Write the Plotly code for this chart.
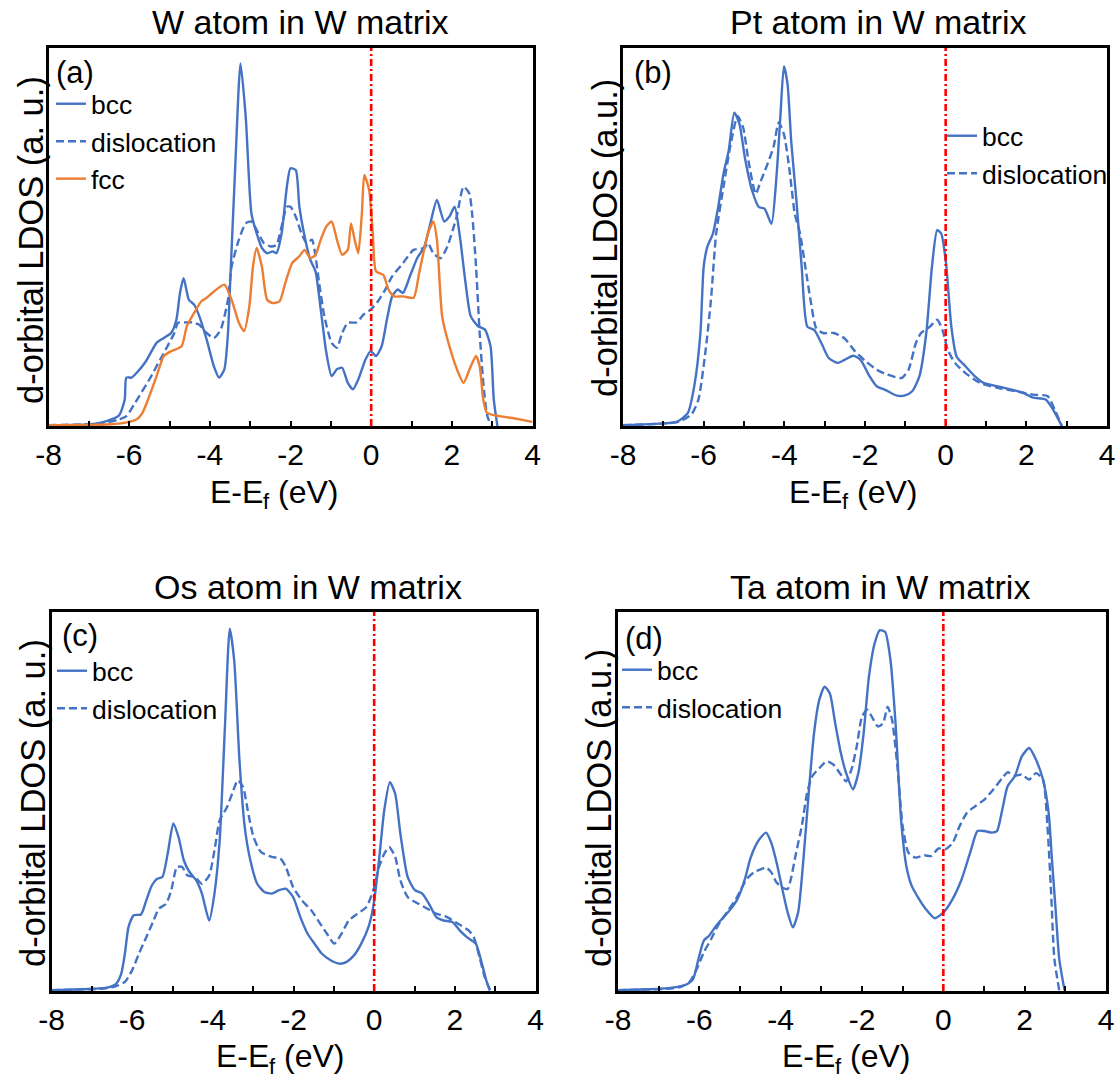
import plotly.graph_objects as go

W, H = 1117, 1081
BLUE = "#4472C4"
ORANGE = "#ED7D31"
RED = "#FF0000"
FONT = "Liberation Sans, Arial, sans-serif"

# ---------------- d-orbital LDOS data (energy in eV relative to E_f, arbitrary units) ----------------
# (a) W atom in W matrix
a_bcc_E = [-8.00, -7.00, -6.56, -6.25, -6.11, -6.07, -5.94, -5.81, -5.58, -5.32, -5.14, -4.96, -4.83, -4.74,
           -4.65, -4.52, -4.39, -4.26, -4.08, -3.90, -3.77, -3.64, -3.55, -3.50, -3.37, -3.24, -3.11, -2.97,
           -2.84, -2.71, -2.58, -2.44, -2.35, -2.22, -2.09, -2.00, -1.87, -1.78, -1.65, -1.51, -1.38, -1.25,
           -1.11, -0.98, -0.85, -0.72, -0.58, -0.45, -0.32, -0.14, -0.01, 0.12, 0.26, 0.39, 0.52, 0.66, 0.79,
           0.96, 1.14, 1.32, 1.45, 1.63, 1.81, 1.94, 2.07, 2.20, 2.34, 2.47, 2.65, 2.82, 2.96, 3.04, 3.13]
a_bcc_D = [0.2, 0.4, 1.3, 2.8, 7.0, 12.8, 12.8, 14.1, 17.2, 22.0, 23.3, 24.6, 28.1, 35.2,
           39.1, 33.4, 32.1, 29.0, 22.9, 15.8, 12.8, 15.0, 24.6, 36.9, 68.6, 95.9, 81.8, 56.3,
           51.0, 47.1, 45.7, 46.2, 45.7, 51.0, 63.3, 68.2, 67.7, 58.0, 50.1, 44.0, 40.9, 30.8,
           19.3, 13.2, 15.0, 15.4, 11.4, 9.7, 12.3, 17.6, 19.8, 18.5, 21.1, 28.1, 34.3, 36.1, 35.2,
           39.6, 44.4, 47.5, 52.8, 59.8, 54.1, 55.4, 58.0, 50.1, 37.8, 29.0, 26.4, 25.5, 21.1, 7.0, 0.0]

a_dis_E = [-8.00, -6.73, -6.29, -6.07, -5.85, -5.50, -5.23, -5.05, -4.88, -4.79, -4.61, -4.43, -4.26, -4.08,
           -3.90, -3.73, -3.55, -3.46, -3.28, -3.11, -2.97, -2.84, -2.66, -2.49, -2.35, -2.22, -2.09, -2.00,
           -1.87, -1.73, -1.60, -1.47, -1.38, -1.29, -1.16, -0.98, -0.85, -0.72, -0.58, -0.36, -0.19, -0.01,
           0.17, 0.35, 0.52, 0.79, 1.05, 1.32, 1.41, 1.54, 1.72, 1.89, 2.12, 2.29, 2.43, 2.51, 2.60, 2.69,
           2.78, 2.87, 2.96]
a_dis_D = [0.2, 0.7, 1.6, 2.6, 6.2, 12.3, 17.6, 21.1, 24.6, 27.3, 27.4, 27.4, 26.8, 24.6,
           23.3, 25.5, 33.4, 42.2, 49.3, 53.6, 54.1, 51.9, 48.4, 47.5, 47.9, 52.8, 58.0, 58.0,
           55.4, 51.0, 48.4, 49.3, 44.9, 37.8, 29.0, 22.0, 20.7, 24.6, 27.3, 27.4, 29.5, 30.8,
           33.0, 36.1, 39.6, 43.1, 46.6, 47.1, 48.4, 45.7, 44.4, 47.5, 55.4, 63.3, 61.6, 55.4, 42.2, 24.6,
           11.4, 3.1, 0.2]

a_fcc_E = [-8.00, -6.56, -6.20, -5.81, -5.67, -5.50, -5.32, -5.14, -4.96, -4.70, -4.57, -4.39, -4.21, -4.08,
           -3.90, -3.64, -3.46, -3.28, -3.15, -3.02, -2.93, -2.84, -2.71, -2.58, -2.44, -2.27, -2.13, -1.96,
           -1.78, -1.65, -1.51, -1.38, -1.25, -1.11, -0.98, -0.85, -0.72, -0.58, -0.50, -0.41, -0.32, -0.23,
           -0.17, -0.05, 0.04, 0.12, 0.30, 0.43, 0.57, 0.79, 1.05, 1.19, 1.41, 1.54, 1.63, 1.76, 1.94,
           2.16, 2.29, 2.47, 2.60, 2.69, 2.78, 2.87, 3.18, 3.62, 4.00]
a_fcc_D = [0.2, 0.4, 0.7, 1.8, 3.5, 7.9, 13.2, 18.5, 19.8, 21.1, 26.4, 29.9, 33.0, 33.9,
           35.6, 37.4, 33.4, 27.3, 25.1, 31.7, 42.2, 47.1, 42.2, 33.4, 32.5, 33.0, 37.8, 43.1,
           44.9, 46.6, 44.4, 45.3, 49.3, 52.8, 54.1, 49.3, 45.3, 46.6, 53.6, 49.3, 45.7, 56.3,
           66.4, 62.4, 51.0, 40.9, 40.0, 36.1, 34.3, 34.3, 33.9, 40.5, 51.0, 54.1, 49.3, 29.0, 21.1,
           14.1, 11.4, 15.8, 18.5, 15.8, 7.0, 3.5, 2.6, 1.9, 1.1]

# (b) Pt atom in W matrix
b_bcc_E = [-8.00, -7.01, -6.66, -6.39, -6.22, -6.08, -6.00, -5.91, -5.77, -5.64, -5.51, -5.38, -5.24, -5.11,
           -4.98, -4.80, -4.63, -4.49, -4.32, -4.19, -4.10, -4.01, -3.92, -3.83, -3.70, -3.57, -3.43, -3.26,
           -3.08, -2.90, -2.68, -2.51, -2.29, -2.11, -1.89, -1.71, -1.49, -1.23, -1.01, -0.83, -0.65, -0.48,
           -0.34, -0.21, -0.11, 0.01, 0.14, 0.27, 0.49, 0.72, 0.94, 1.29, 1.64, 1.91, 2.17, 2.48, 2.66, 2.88]
b_bcc_D = [0.2, 0.7, 1.1, 3.5, 11.4, 24.6, 42.1, 47.4, 50.9, 57.9, 66.7, 72.8, 82.9, 79.8,
           71.1, 62.3, 57.9, 57.5, 53.5, 66.7, 81.6, 95.2, 90.4, 75.4, 59.6, 42.1, 26.3, 25.4,
           21.9, 18.0, 16.7, 17.5, 18.6, 17.5, 13.2, 10.5, 9.5, 8.1, 8.1, 9.2, 13.2, 24.6,
           42.1, 51.8, 50.9, 43.0, 26.3, 18.4, 15.8, 13.2, 11.4, 10.5, 9.6, 8.8, 7.5, 7.0, 4.4, 0.0]

b_dis_E = [-8.00, -6.92, -6.57, -6.30, -6.13, -5.95, -5.82, -5.69, -5.51, -5.33, -5.16, -5.02, -4.89, -4.71,
           -4.58, -4.45, -4.27, -4.14, -4.01, -3.88, -3.74, -3.61, -3.48, -3.35, -3.21, -3.04, -2.77, -2.51,
           -2.24, -1.98, -1.71, -1.45, -1.09, -0.92, -0.74, -0.61, -0.39, -0.21, -0.08, 0.05, 0.23, 0.49,
           0.85, 1.29, 1.73, 2.17, 2.53, 2.70, 2.88]
b_dis_D = [0.2, 0.7, 1.3, 3.1, 7.0, 20.2, 33.3, 50.9, 63.2, 74.6, 82.0, 78.9, 70.2, 61.4,
           64.9, 68.4, 73.7, 80.3, 77.2, 68.4, 56.1, 50.9, 42.1, 33.3, 25.9, 24.6, 24.6, 23.2,
           19.7, 17.1, 14.9, 13.6, 12.7, 14.9, 21.9, 24.6, 26.3, 28.1, 25.4, 20.2, 16.7, 14.0,
           11.4, 10.1, 9.2, 8.3, 7.9, 4.4, 0.0]

# (c) Os atom in W matrix
c_bcc_E = [-8.00, -6.98, -6.62, -6.40, -6.27, -6.18, -6.09, -5.96, -5.78, -5.65, -5.51, -5.38, -5.25, -5.12,
           -4.98, -4.85, -4.72, -4.58, -4.41, -4.27, -4.09, -3.96, -3.83, -3.70, -3.58, -3.47, -3.34, -3.21,
           -3.07, -2.90, -2.72, -2.54, -2.36, -2.19, -2.01, -1.83, -1.65, -1.48, -1.30, -1.08, -0.85, -0.68,
           -0.50, -0.32, -0.14, -0.01, 0.12, 0.25, 0.39, 0.52, 0.65, 0.83, 1.01, 1.19, 1.36, 1.54, 1.72,
           1.94, 2.12, 2.30, 2.52, 2.65, 2.78, 2.87]
c_bcc_D = [0.2, 0.6, 0.9, 1.9, 4.6, 9.9, 16.9, 20.0, 20.2, 23.9, 27.9, 29.6, 30.1, 36.2,
           44.2, 40.6, 34.5, 31.4, 29.2, 25.7, 18.6, 25.7, 39.8, 69.7, 95.6, 87.2, 60.9, 43.3,
           34.5, 28.3, 26.1, 25.7, 26.6, 27.0, 24.8, 19.5, 15.1, 12.5, 9.9, 8.1, 7.2, 7.7,
           9.4, 12.5, 16.9, 23.0, 34.5, 47.7, 55.1, 52.1, 41.5, 30.1, 26.6, 25.7, 23.0, 19.5, 18.6,
           18.2, 16.0, 14.2, 12.5, 8.1, 2.8, 0.2]

c_dis_E = [-8.00, -6.80, -6.45, -6.18, -6.00, -5.83, -5.65, -5.47, -5.34, -5.16, -5.03, -4.89, -4.76, -4.63,
           -4.45, -4.27, -4.09, -3.96, -3.83, -3.65, -3.52, -3.38, -3.25, -3.12, -2.99, -2.81, -2.54, -2.32,
           -2.19, -2.01, -1.79, -1.56, -1.34, -1.17, -0.99, -0.81, -0.63, -0.41, -0.19, -0.01, 0.12, 0.25,
           0.37, 0.52, 0.65, 0.83, 1.10, 1.32, 1.54, 1.81, 2.07, 2.34, 2.47, 2.61, 2.74, 2.87]
c_dis_D = [0.2, 0.6, 1.1, 2.4, 5.5, 9.9, 14.2, 18.6, 21.7, 23.0, 26.6, 32.7, 32.7, 30.5,
           30.1, 28.3, 30.5, 37.1, 45.0, 48.5, 52.1, 55.6, 53.8, 46.8, 40.6, 36.7, 35.4, 34.9,
           32.7, 27.4, 23.9, 21.3, 17.8, 15.1, 12.5, 15.1, 18.6, 20.4, 22.2, 27.0, 32.7, 36.2,
           38.0, 35.4, 29.2, 24.8, 23.0, 21.7, 20.4, 19.5, 17.8, 16.0, 14.2, 9.0, 3.7, 0.2]

# (d) Ta atom in W matrix
d_bcc_E = [-8.00, -6.98, -6.54, -6.28, -6.15, -6.02, -5.89, -5.76, -5.58, -5.41, -5.23, -5.06, -4.88, -4.75,
           -4.62, -4.49, -4.36, -4.23, -4.10, -3.96, -3.83, -3.70, -3.57, -3.44, -3.31, -3.18, -3.05, -2.92,
           -2.79, -2.66, -2.52, -2.39, -2.22, -2.09, -1.96, -1.83, -1.69, -1.56, -1.43, -1.30, -1.17, -1.04,
           -0.91, -0.78, -0.60, -0.43, -0.21, 0.01, 0.23, 0.45, 0.66, 0.84, 1.01, 1.19, 1.32, 1.45, 1.58,
           1.76, 1.93, 2.11, 2.28, 2.45, 2.59, 2.67, 2.76, 2.85, 2.98]
d_bcc_D = [0.2, 0.6, 1.1, 1.9, 3.2, 8.5, 13.3, 14.6, 17.3, 19.4, 21.6, 24.3, 29.5, 34.8,
           38.3, 40.5, 41.8, 39.1, 33.9, 26.9, 20.8, 16.8, 20.8, 34.8, 52.3, 68.0, 76.8, 80.3,
           78.5, 70.7, 62.8, 57.5, 53.2, 57.5, 68.0, 82.9, 91.7, 95.2, 94.7, 87.3, 69.8, 45.3,
           33.0, 27.8, 24.3, 21.6, 19.2, 20.8, 24.3, 29.5, 36.5, 42.2, 42.2, 41.8, 42.2, 47.9, 54.0,
           56.7, 61.9, 64.1, 61.0, 55.8, 47.0, 34.8, 21.6, 8.5, 0.2]

d_dis_E = [-8.00, -6.80, -6.45, -6.24, -6.06, -5.89, -5.71, -5.54, -5.32, -5.10, -4.97, -4.84, -4.66, -4.49,
           -4.36, -4.23, -4.10, -3.96, -3.83, -3.75, -3.62, -3.48, -3.35, -3.22, -3.05, -2.87, -2.70, -2.52,
           -2.39, -2.26, -2.13, -2.00, -1.87, -1.74, -1.61, -1.48, -1.37, -1.26, -1.13, -1.00, -0.86, -0.69,
           -0.47, -0.30, -0.12, 0.05, 0.23, 0.40, 0.58, 0.79, 1.01, 1.23, 1.45, 1.58, 1.76, 1.93, 2.11,
           2.28, 2.45, 2.56, 2.65, 2.73, 2.85]
d_dis_D = [0.2, 0.6, 1.1, 2.4, 5.9, 10.2, 13.7, 17.3, 20.8, 24.3, 26.9, 29.5, 31.3, 32.1,
           32.6, 31.3, 28.6, 27.3, 26.9, 29.5, 36.5, 43.5, 52.3, 56.7, 58.8, 60.6, 59.7, 57.1,
           55.3, 58.4, 64.5, 72.4, 74.2, 72.0, 69.8, 70.7, 75.0, 71.5, 59.3, 43.5, 36.5, 35.2,
           35.8, 35.6, 37.6, 37.4, 39.1, 43.5, 47.0, 48.8, 50.5, 53.2, 56.2, 57.7, 56.8, 57.1, 55.8,
           57.5, 55.8, 43.5, 26.0, 8.5, 0.2]

# x-axis: labelled ticks every 2 eV, unlabelled ticks in between
major_vals = [-8, -6, -4, -2, 0, 2, 4]
major_text = ["-8", "-6", "-4", "-2", "0", "2", "4"]
minor_vals = [-7, -5, -3, -1, 1, 3]

# x-axis title pieces: "E-E", subscript "f", " (eV)"
XT_SIZE = 32
XT_SUB = 22
XT_PARTS = ("E-E", "f", "(eV)")
XT_W = (1.667 * XT_SIZE, 0.278 * XT_SUB, 0.278 * XT_SIZE, 1.889 * XT_SIZE)  # glyph advances


def px_x(p):
    return p / W


def px_y(p):
    return 1 - p / H


panels = [
    dict(box=(48.5, 48, 532.5, 426), title="W atom in W matrix", title_xy=(300, 22),
         ylab="d-orbital LDOS (a. u.)", ylab_xy=(31, 240), xlab_xy=(272, 492),
         tag="(a)", tag_xy=(54, 72), legend_xy=(51, 80),
         series=[("bcc", a_bcc_E, a_bcc_D, BLUE, "solid"),
                 ("dislocation", a_dis_E, a_dis_D, BLUE, "8px,4px"),
                 ("fcc", a_fcc_E, a_fcc_D, ORANGE, "solid")]),
    dict(box=(623, 48, 1107, 426), title="Pt atom in W matrix", title_xy=(878, 22),
         ylab="d-orbital LDOS (a.u.)", ylab_xy=(605, 238), xlab_xy=(851, 492),
         tag="(b)", tag_xy=(632, 72), legend_xy=(942, 112),
         series=[("bcc", b_bcc_E, b_bcc_D, BLUE, "solid"),
                 ("dislocation", b_dis_E, b_dis_D, BLUE, "8px,4px")]),
    dict(box=(51.5, 612, 535.5, 991), title="Os atom in W matrix", title_xy=(308, 587),
         ylab="d-orbital LDOS (a. u.)", ylab_xy=(33, 803), xlab_xy=(278, 1056),
         tag="(c)", tag_xy=(60, 635), legend_xy=(52, 647),
         series=[("bcc", c_bcc_E, c_bcc_D, BLUE, "solid"),
                 ("dislocation", c_dis_E, c_dis_D, BLUE, "8px,4px")]),
    dict(box=(618, 612, 1106, 991), title="Ta atom in W matrix", title_xy=(880, 587),
         ylab="d-orbital LDOS (a.u.)", ylab_xy=(599, 808), xlab_xy=(844, 1056),
         tag="(d)", tag_xy=(623, 638), legend_xy=(617, 646),
         series=[("bcc", d_bcc_E, d_bcc_D, BLUE, "solid"),
                 ("dislocation", d_dis_E, d_dis_D, BLUE, "8px,4px")]),
]

fig = go.Figure()
annotations = []
shapes = []
layout = {}


def text_ann(text, x, y, size, xanchor="center", angle=0):
    return dict(text=text, xref="paper", yref="paper", x=px_x(x), y=px_y(y),
                xanchor=xanchor, yanchor="middle", textangle=angle, showarrow=False,
                font=dict(family=FONT, size=size, color="black"))


for i, p in enumerate(panels, start=1):
    sfx = "" if i == 1 else str(i)
    xa, ya = "x" + sfx, "y" + sfx
    leg = "legend" + sfx
    x0, y0, x1, y1 = p["box"]

    for name, E, D, color, dash in p["series"]:
        fig.add_trace(go.Scatter(
            x=E, y=D, name=name, mode="lines", xaxis=xa, yaxis=ya, legend=leg,
            line=dict(color=color, width=2.4, dash=dash, shape="spline", smoothing=0.6),
            hoverinfo="skip"))

    layout["xaxis" + sfx] = dict(
        domain=[px_x(x0), px_x(x1)], anchor=ya, range=[-8, 4],
        tickmode="array", tickvals=major_vals, ticktext=major_text,
        ticks="inside", ticklen=5, tickwidth=2, tickcolor="black",
        minor=dict(tickmode="array", tickvals=minor_vals, ticks="inside",
                   ticklen=5, tickwidth=2, tickcolor="black", showgrid=False),
        showline=True, linewidth=2.5, linecolor="black", mirror=True,
        showgrid=False, zeroline=False,
        tickfont=dict(family=FONT, size=30, color="black"))
    layout["yaxis" + sfx] = dict(
        domain=[px_y(y1), px_y(y0)], anchor=xa, range=[0, 100],
        showticklabels=False, ticks="",
        showline=True, linewidth=2.5, linecolor="black", mirror=True,
        showgrid=False, zeroline=False)
    layout[leg] = dict(
        x=px_x(p["legend_xy"][0]), y=px_y(p["legend_xy"][1]),
        xanchor="left", yanchor="top", bgcolor="rgba(0,0,0,0)",
        font=dict(family=FONT, size=26.5, color="black"),
        tracegroupgap=0, itemwidth=30)

    # Fermi level
    shapes.append(dict(type="line", xref=xa, yref=ya + " domain", x0=0, x1=0, y0=0, y1=1,
                       line=dict(color=RED, width=2.6, dash="7px,3px,2px,3px"), layer="above"))

    tx, ty = p["title_xy"]
    annotations.append(text_ann(p["title"], tx, ty, 34))
    lx, ly = p["ylab_xy"]
    annotations.append(text_ann(p["ylab"], lx, ly, 34.5, angle=-90))

    # x-axis title "E-E_f (eV)" assembled left to right
    bx, by = p["xlab_xy"]
    left = bx - sum(XT_W) / 2
    annotations.append(text_ann(XT_PARTS[0], left, by, XT_SIZE, xanchor="left"))
    annotations.append(text_ann(XT_PARTS[1], left + XT_W[0], by + 10, XT_SUB, xanchor="left"))
    annotations.append(text_ann(XT_PARTS[2], left + XT_W[0] + XT_W[1] + XT_W[2], by, XT_SIZE,
                                xanchor="left"))

    gx, gy = p["tag_xy"]
    annotations.append(text_ann(p["tag"], gx, gy, 31, xanchor="left"))

fig.update_layout(
    width=W, height=H, margin=dict(l=0, r=0, t=0, b=0, autoexpand=False),
    paper_bgcolor="white", plot_bgcolor="white",
    font=dict(family=FONT, color="black"),
    annotations=annotations, shapes=shapes, **layout)

fig.write_html("out.html")
